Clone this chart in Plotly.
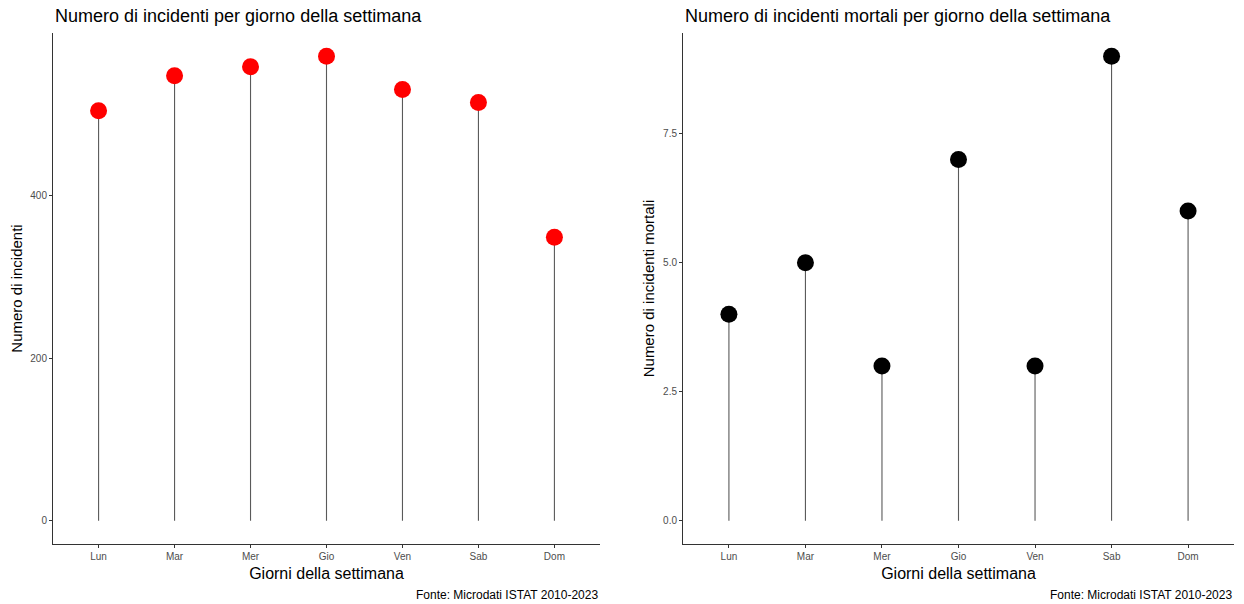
import plotly.graph_objects as go
from plotly.subplots import make_subplots

giorni = ["Lun", "Mar", "Mer", "Gio", "Ven", "Sab", "Dom"]
incidenti = [505, 548, 559, 572, 531, 515, 349]
incidenti_mortali = [4, 5, 3, 7, 3, 9, 6]

titolo_sx = "Numero di incidenti per giorno della settimana"
titolo_dx = "Numero di incidenti mortali per giorno della settimana"
fonte = "Fonte: Microdati ISTAT 2010-2023"

FONT = "Liberation Sans, Arial, sans-serif"

fig = make_subplots(rows=1, cols=2, horizontal_spacing=0.07)


def stems(cats, vals):
    xs, ys = [], []
    for c, v in zip(cats, vals):
        xs += [c, c, None]
        ys += [0, v, None]
    return xs, ys


for col, vals, color in [(1, incidenti, "#FF0000"), (2, incidenti_mortali, "#000000")]:
    sx, sy = stems(giorni, vals)
    fig.add_trace(go.Scatter(x=sx, y=sy, mode="lines",
                             line=dict(color="#5a5a5a", width=1.1),
                             hoverinfo="skip", showlegend=False), row=1, col=col)
    fig.add_trace(go.Scatter(x=giorni, y=vals, mode="markers",
                             marker=dict(color=color, size=17, line=dict(width=0)),
                             showlegend=False), row=1, col=col)

W, H = 1244, 604
ml, mr, mt, mb = 53, 10, 33, 60
pw = W - ml - mr
d1 = [0, (600 - ml) / pw]
d2 = [(683 - ml) / pw, 1.0]

axis_common = dict(showgrid=False, zeroline=False, showline=True, automargin=False,
                   linecolor="#333333", linewidth=1,
                   ticks="outside", ticklen=3, tickcolor="#333333", tickwidth=1,
                   tickfont=dict(family=FONT, size=10, color="#4d4d4d"))

fig.update_xaxes(**axis_common)
fig.update_yaxes(**axis_common)

fig.update_layout(
    width=W, height=H,
    margin=dict(l=ml, r=mr, t=mt, b=mb, autoexpand=False),
    paper_bgcolor="white", plot_bgcolor="white",
    font=dict(family=FONT, color="#000000"),
    xaxis=dict(domain=d1, type="category", categoryorder="array",
               categoryarray=giorni, range=[-0.6, 6.6],
               title=dict(text="Giorni della settimana", font=dict(size=16), standoff=6)),
    xaxis2=dict(domain=d2, type="category", categoryorder="array",
                categoryarray=giorni, range=[-0.6, 6.6],
                title=dict(text="Giorni della settimana", font=dict(size=16), standoff=6)),
    yaxis=dict(range=[-28.6, 600.6], tickvals=[0, 200, 400],
               ticktext=["0", "200", "400"],
               title=dict(text="Numero di incidenti", font=dict(size=15), standoff=4)),
    yaxis2=dict(range=[-0.45, 9.45], tickvals=[0, 2.5, 5, 7.5],
                ticktext=["0.0", "2.5", "5.0", "7.5"],
                title=dict(text="Numero di incidenti mortali", font=dict(size=15), standoff=4)),
)

annots = [
    dict(text=titolo_sx, x=d1[0], y=1, xanchor="left", yanchor="bottom", yshift=5,
         font=dict(size=18)),
    dict(text=titolo_dx, x=d2[0], y=1, xanchor="left", yanchor="bottom", yshift=5,
         font=dict(size=18)),
    dict(text=fonte, x=d1[1], y=0, xanchor="right", yanchor="top", yshift=-42,
         font=dict(size=12)),
    dict(text=fonte, x=d2[1], y=0, xanchor="right", yanchor="top", yshift=-42,
         font=dict(size=12)),
]
for a in annots:
    a.update(xref="paper", yref="paper", showarrow=False)
    a["font"]["family"] = FONT
    a["font"]["color"] = "#000000"
fig.update_layout(annotations=annots)

fig.write_html("out.html", config={"displayModeBar": False},
               post_script="document.body.style.margin='0';document.body.style.overflow='hidden';")
